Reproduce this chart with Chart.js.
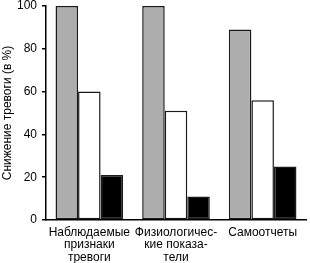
<!DOCTYPE html>
<html>
<head>
<meta charset="utf-8">
<script src="https://cdn.jsdelivr.net/npm/chart.js@4"></script>
<style>
  html, body { margin: 0; padding: 0; background: #fff; }
  #wrap { width: 310px; height: 263px; position: relative; }
</style>
</head>
<body>
<div id="wrap"><canvas id="c"></canvas></div>
<script>
const FONT = '"Liberation Sans", Arial, sans-serif';

const categories = [
  ['Наблюдаемые', 'признаки', 'тревоги'],
  ['Физиологичес-', 'кие показа-', 'тели'],
  ['Самоотчеты'],
];
const seriesGray = [100, 100, 89];
const seriesWhite = [60, 51, 56];
const seriesBlack = [21, 11, 25];
const yTicks = [0, 20, 40, 60, 80, 100];

const barStyle = { borderColor: '#1a1a1a', borderWidth: 1.5, borderSkipped: false };

new Chart(document.getElementById('c'), {
  type: 'bar',
  data: {
    labels: categories,
    datasets: [
      { data: seriesGray, backgroundColor: '#aeaeae', ...barStyle },
      { data: seriesWhite, backgroundColor: '#ffffff', ...barStyle },
      { data: seriesBlack, backgroundColor: '#000000', ...barStyle },
    ],
  },
  options: {
    responsive: true,
    maintainAspectRatio: false,
    animation: false,
    layout: { padding: { top: 6, right: 4, left: 0, bottom: 0 } },
    datasets: { bar: { categoryPercentage: 0.78, barPercentage: 1 } },
    plugins: { legend: { display: false }, tooltip: { enabled: false } },
    scales: {
      x: {
        grid: { display: false, drawTicks: false },
        border: { display: true, color: '#000', width: 1.5 },
        ticks: { font: { family: FONT, size: 12, lineHeight: 1.05 }, color: '#000', padding: 6, maxRotation: 0, autoSkip: false },
        afterFit(scale) { scale.height = 43; },
      },
      y: {
        min: 0,
        max: 100,
        afterBuildTicks(scale) { scale.ticks = yTicks.map(v => ({ value: v })); },
        grid: { drawOnChartArea: false, drawTicks: true, tickLength: 4, color: '#000', lineWidth: 1.5 },
        border: { display: true, color: '#000', width: 1.5 },
        ticks: { font: { family: FONT, size: 12 }, color: '#000', padding: 5 },
        title: {
          display: true,
          text: 'Снижение тревоги (в %)',
          font: { family: FONT, size: 12 },
          color: '#000',
          padding: { top: 0, bottom: 0 },
        },
        afterFit(scale) {
          scale.width = 46;
          scale.paddingTop = 0;
          scale.paddingBottom = 0;
        },
      },
    },
  },
});
</script>
</body>
</html>
